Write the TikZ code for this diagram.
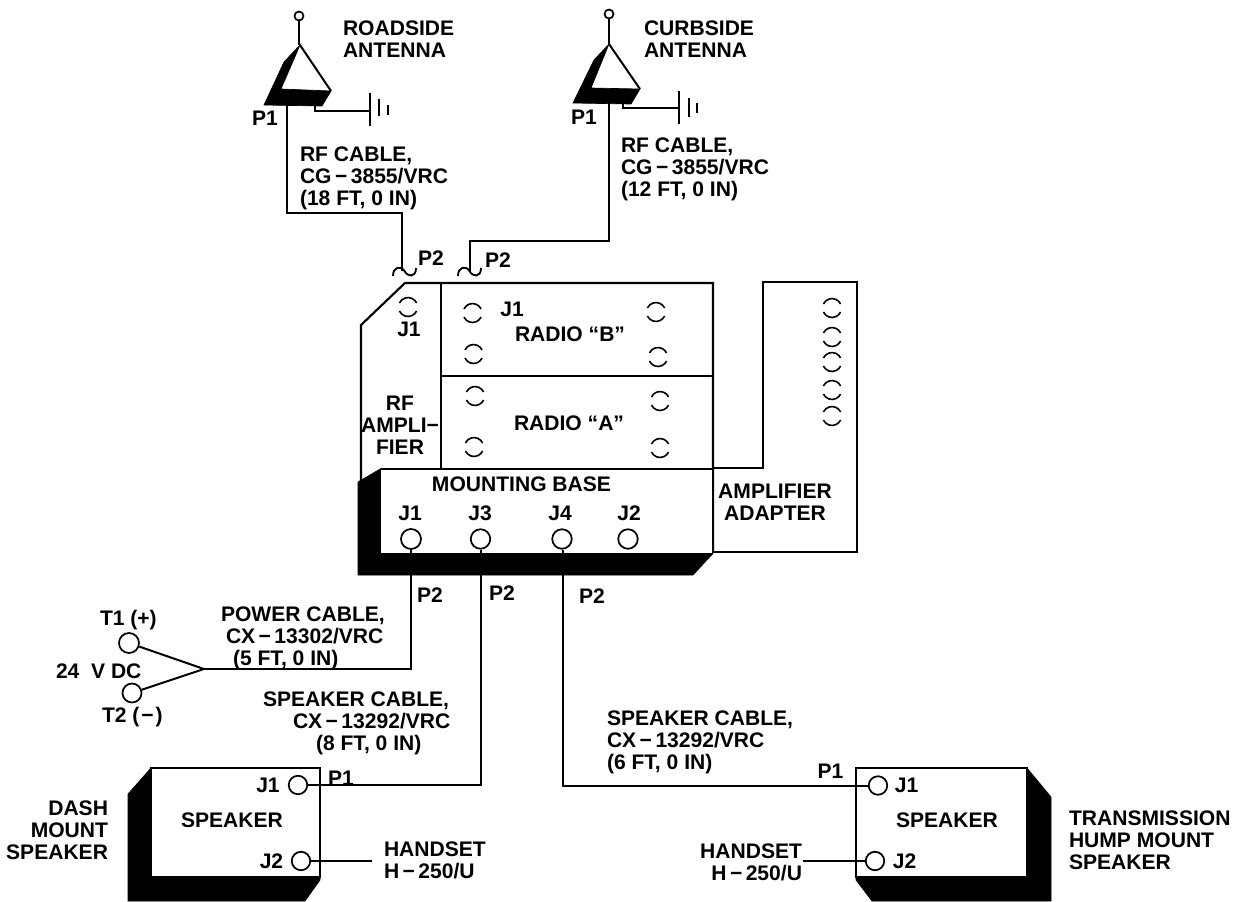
\documentclass[tikz,border=0pt]{standalone}
\usepackage{fontspec}
\setmainfont{Liberation Sans}
\newcommand{\mns}{\kern2.6pt−\kern2.6pt}
\newcommand{\ind}[1]{\hspace*{\dimexpr #1pt*3/4\relax}}
\tikzset{
  x=0.75pt,y=-0.75pt,
  wire/.style={draw=black,line width=1.5pt,line join=miter},
  boxline/.style={draw=black,line width=1.6pt,line join=miter},
  solid black/.style={fill=black,draw=black,line width=0.5pt,line join=miter},
  lbl/.style={font=\fontsize{15.8pt}{16.6pt}\selectfont\bfseries,inner sep=0pt,outer sep=0pt,text=black},
  port/.style={circle,draw=black,fill=white,line width=1.3pt,inner sep=0pt,minimum size=#1*0.75pt},
  gapring/.pic={
    \draw[line width=1.2pt] (155:7.1pt) arc[start angle=155,end angle=25,radius=7.1pt];
    \draw[line width=1.2pt] (205:7.1pt) arc[start angle=205,end angle=335,radius=7.1pt];
  },
  tildeplug/.pic={
    \draw[line width=1.4pt] (-11.5,5) .. controls (-11.5,-4) and (-4,-6) .. (0,0) .. controls (3,6) and (11.5,7) .. (11.5,-3);
  }
}
\begin{document}
\begin{tikzpicture}
\useasboundingbox (0,0) rectangle (1236,901);
% Roadside antenna
\path[solid black] (300,45) -- (284,62) -- (264,105) -- (322,106) -- (331,91) -- (281,89) -- cycle;
\draw[wire] (300,45) -- (331,91);
\node[port=9] (antR) at (299,16) {};
\coordinate (antRapex) at (299,45);
\draw[wire] (antR) -- (antRapex);
\coordinate (gndRa) at (315,106);\coordinate (gndRb) at (370,110.5);
\draw[wire] (gndRa) |- (gndRb);
\draw[wire] (370,93) -- (370,126);
\draw[wire] (379,99) -- (379,116);
\draw[wire] (388,105) -- (388,115);
% Curbside antenna
\path[solid black] (609,44) -- (594,60) -- (573,103) -- (631,104) -- (640,89) -- (591,88) -- cycle;
\draw[wire] (609,44) -- (640,89);
\node[port=9] (antC) at (609,14) {};
\coordinate (antCapex) at (609,44);
\draw[wire] (antC) -- (antCapex);
\coordinate (gndCa) at (623,104);\coordinate (gndCb) at (679,108);
\draw[wire] (gndCa) |- (gndCb);
\draw[wire] (679,91) -- (679,124);
\draw[wire] (689,98) -- (689,117);
\draw[wire] (697,103) -- (697,113);
% RF cables
\coordinate (cabRa) at (287,105);\coordinate (cabRb) at (287,213);\coordinate (cabRc) at (402,213);\coordinate (cabRd) at (402,271);
\draw[wire] (cabRa) -- (cabRb) -- (cabRc) -- (cabRd);
\coordinate (cabCa) at (609,103);\coordinate (cabCb) at (609,240.5);\coordinate (cabCc) at (470,240.5);\coordinate (cabCd) at (470,271);
\draw[wire] (cabCa) -- (cabCb) -- (cabCc) -- (cabCd);
\pic at (404.5,271) {tildeplug};
\pic at (469.5,271) {tildeplug};
% Radio housing
\draw[boxline] (713,553) -- (713,283) -- (405,283) -- (361,325) -- (361,482);
\draw[boxline] (441,283) -- (441,469);
\draw[boxline] (441,376) -- (713,376);
% Amplifier adapter
\draw[boxline] (713,468) -- (763,468) -- (763,282) -- (857,282) -- (857,552) -- (713,552);
% Mounting base
\path[solid black] (358,482) -- (381,468.5) -- (712.5,468.5) -- (712.5,554) -- (693,575) -- (358,575) -- cycle;
\path[fill=white] (381,470) rectangle (711.5,553);
\foreach \p in {(408,307),(472.5,313),(473.5,354),(656,312),(658,357),(475,396),(474,447),(660,401),(660,448),(832,308),(832,337),(832,362),(832,390),(832,416)} {\pic at \p {gapring};}
% Mounting base ports
\node[port=20] (mJ1) at (411,539) {};
\node[port=19.5] (mJ3) at (480.5,539) {};
\node[port=19.5] (mJ4) at (562,539) {};
\node[port=19.5] (mJ2) at (628,539) {};
% Speakers
\path[solid black] (151,768) -- (128,794) -- (128,901) -- (305,901) -- (320,880) -- (320,768) -- cycle;
\path[boxline,fill=white] (151,768) rectangle (320,877);
\path[solid black] (1027,768) -- (1051,797) -- (1051,901) -- (872,901) -- (856,880) -- (856,768) -- cycle;
\path[boxline,fill=white] (856,768) rectangle (1027,877);
\node[port=18.5] (s1J1) at (298,785) {};
\node[port=18.5] (s1J2) at (301,861) {};
\node[port=18.5] (s2J1) at (878,785.5) {};
\node[port=18.5] (s2J2) at (875,861) {};
% Terminals and cables
\node[port=20] (tOne) at (129,643) {};
\node[port=19] (tTwo) at (132,693) {};
\coordinate (fork) at (204,669);
\coordinate (pwrBend) at (411,669);
\draw[wire] (tOne) -- (fork);
\draw[wire] (tTwo) -- (fork);
\draw[wire] (fork) -- (pwrBend) -- (mJ1);
\coordinate (sp1Bend) at (481,785);
\draw[wire] (s1J1) -- (sp1Bend) -- (sp1Bend |- mJ3.south);
\coordinate (sp2Bend) at (563,785.5);
\draw[wire] (s2J1) -- (sp2Bend) -- (sp2Bend |- mJ4.south);
\coordinate (hs1End) at (372,861);
\draw[wire] (s1J2) -- (hs1End);
\coordinate (hs2End) at (803,861);
\draw[wire] (s2J2) -- (hs2End);
% Labels
\node[lbl,anchor=west,align=left] (tRoad) at (343,39) {ROADSIDE\\ANTENNA};
\node[lbl,anchor=west,align=left] (tCurb) at (644,39) {CURBSIDE\\ANTENNA};
\node[lbl,anchor=west] (tP1a) at (252,118) {P1};
\node[lbl,anchor=west] (tP1b) at (571,117) {P1};
\node[lbl,anchor=west,align=left] (tRF1) at (300,178) {RF CABLE,\\CG\mns3855/VRC\\(18 FT, 0 IN)};
\node[lbl,anchor=west,align=left] (tRF2) at (621,169) {RF CABLE,\\CG\mns3855/VRC\\(12 FT, 0 IN)};
\node[lbl,anchor=west] (tP2a) at (418,258) {P2};
\node[lbl,anchor=west] (tP2b) at (485,260) {P2};
\node[lbl] (tJ1amp) at (409,329) {J1};
\node[lbl] (tJ1b) at (512,309) {J1};
\node[lbl,anchor=west] (tRadB) at (515,334) {RADIO “B”};
\node[lbl,anchor=west] (tRadA) at (514,423) {RADIO “A”};
\node[lbl,align=center] (tRFamp) at (400,425) {RF\\AMPLI−\\FIER};
\node[lbl] (tBase) at (521.5,484) {MOUNTING BASE};
\node[lbl] (tmJ1) at (410,513) {J1};
\node[lbl] (tmJ3) at (480,513) {J3};
\node[lbl] (tmJ4) at (560,513) {J4};
\node[lbl] (tmJ2) at (629,513) {J2};
\node[lbl,align=center] (tAdapt) at (775,502) {AMPLIFIER\\ADAPTER};
\node[lbl] (tP2c) at (430,595) {P2};
\node[lbl] (tP2d) at (502,593) {P2};
\node[lbl] (tP2e) at (592,596) {P2};
\node[lbl,anchor=west] (tTone) at (100,620) {T1 (+)};
\node[lbl,anchor=west] (tTtwo) at (102,717) {T2 (\kern1.5pt−\kern1.5pt)};
\node[lbl,anchor=west] (tDC) at (56,671) {24~~V DC};
\node[lbl,align=left,anchor=west] (tPwr) at (221,638.5) {POWER CABLE,\\\ind{5}CX\mns13302/VRC\\\ind{12}(5 FT, 0 IN)};
\node[lbl,align=left,anchor=west] (tSpk1) at (263,723.5) {SPEAKER CABLE,\\\ind{30}CX\mns13292/VRC\\\ind{53}(8 FT, 0 IN)};
\node[lbl,anchor=west,align=left] (tSpk2) at (607,742) {SPEAKER CABLE,\\CX\mns13292/VRC\\(6 FT, 0 IN)};
\node[lbl,anchor=east,align=right] (tDash) at (108,830) {DASH\\MOUNT\\SPEAKER};
\node[lbl] (tS1) at (232,820) {SPEAKER};
\node[lbl] (tS1J1) at (268,785) {J1};
\node[lbl] (tS1J2) at (271.5,861) {J2};
\node[lbl] (tP1c) at (341,778) {P1};
\node[lbl,anchor=west,align=left] (tHS1) at (384,860) {HANDSET\\H\mns250/U};
\node[lbl] (tP1d) at (830.5,771) {P1};
\node[lbl] (tS2J1) at (906.5,785) {J1};
\node[lbl] (tS2) at (947,820) {SPEAKER};
\node[lbl] (tS2J2) at (904.5,861) {J2};
\node[lbl,anchor=east,align=right] (tHS2) at (802,862) {HANDSET\\H\mns250/U};
\node[lbl,anchor=west,align=left] (tTrans) at (1069,840) {TRANSMISSION\\HUMP MOUNT\\SPEAKER};
\end{tikzpicture}
\end{document}
